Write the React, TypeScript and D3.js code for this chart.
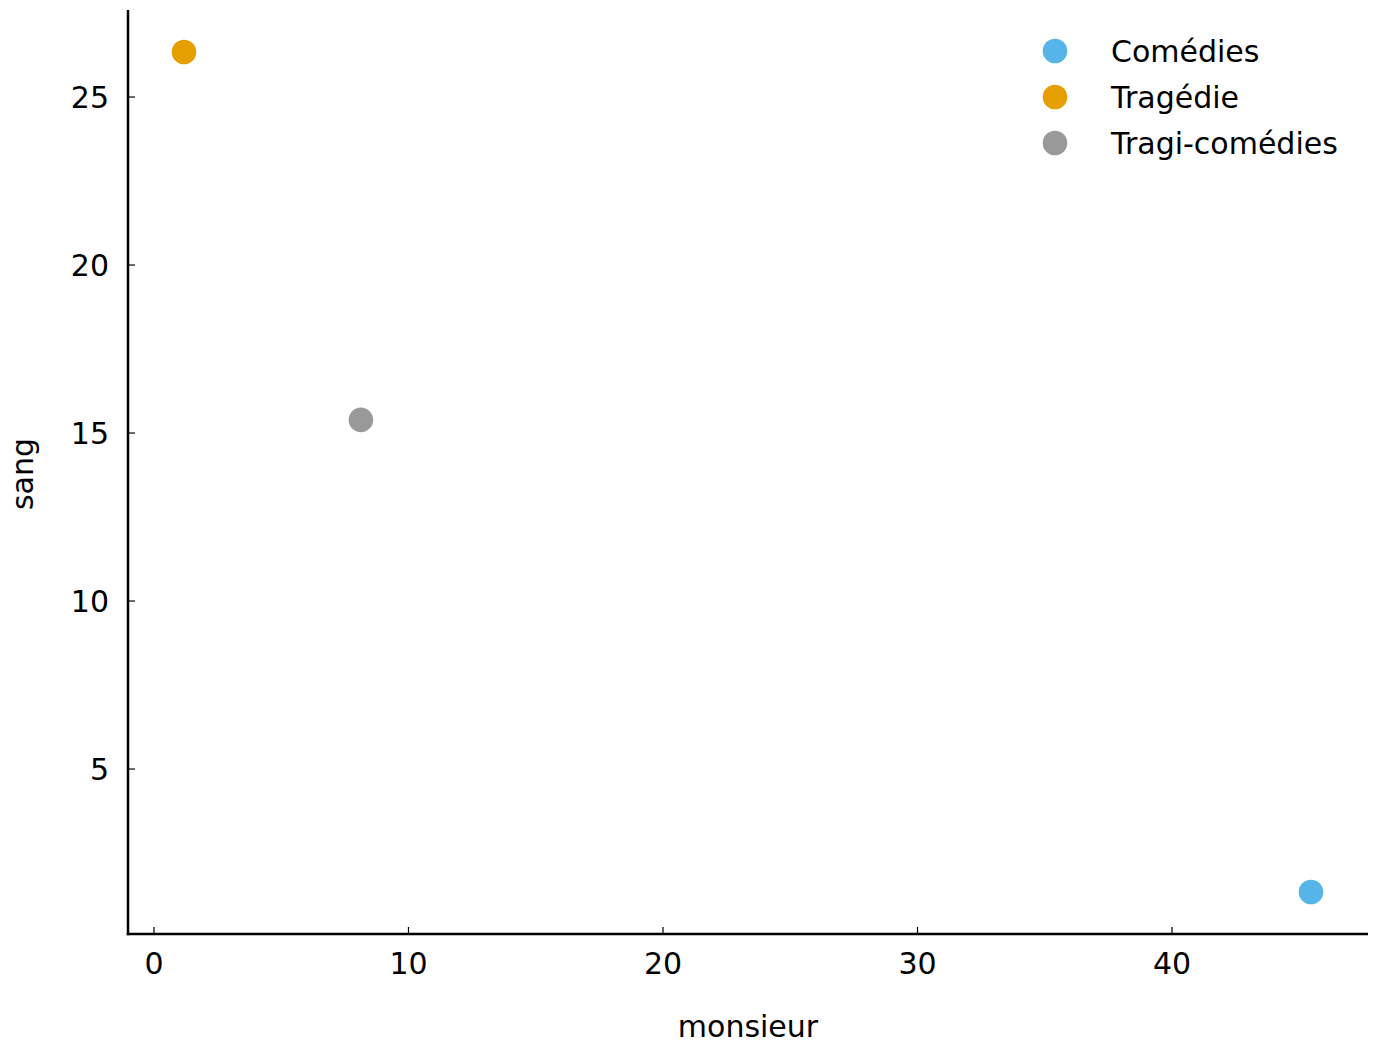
import React from "react";
import * as d3 from "d3";

const categories = ["Comédies", "Tragédie", "Tragi-comédies"];
const monsieurValues = [45.46, 1.18, 8.13];
const sangValues = [1.34, 26.34, 15.39];
const colors = ["#56B4E9", "#E69F00", "#999999"];
const xTicks = [0, 10, 20, 30, 40];
const yTicks = [5, 10, 15, 20, 25];

const W = 1377;
const H = 1052;
const M = { left: 128, right: 1368, top: 10, bottom: 934 };
const FONT = "DejaVu Sans, sans-serif";
const FS = 30;

export default function App() {
  const x = d3.scaleLinear().domain([-1.02, 47.7]).range([M.left, M.right]);
  const y = d3.scaleLinear().domain([0.09, 27.59]).range([M.bottom, M.top]);
  const legendY = d3.scalePoint<string>().domain(categories).range([51, 143]);

  return (
    <div style={{ position: "absolute", left: 0, top: 0 }}>
      <svg width={W} height={H} style={{ display: "block", background: "#fff" }}>
        {xTicks.map((t) => (
          <g key={"x" + t}>
            <line x1={x(t)} x2={x(t)} y1={M.bottom} y2={M.bottom - 7} stroke="#000" strokeWidth={1.2} />
            <text x={x(t)} y={974} textAnchor="middle" fontFamily={FONT} fontSize={FS} fill="#000">
              {t}
            </text>
          </g>
        ))}
        {yTicks.map((t) => (
          <g key={"y" + t}>
            <line x1={M.left} x2={M.left + 7} y1={y(t)} y2={y(t)} stroke="#000" strokeWidth={1.2} />
            <text x={109} y={y(t)} dy="0.36em" textAnchor="end" fontFamily={FONT} fontSize={FS} fill="#000">
              {t}
            </text>
          </g>
        ))}
        <line x1={M.left} x2={M.left} y1={M.top} y2={M.bottom + 1.25} stroke="#000" strokeWidth={2.5} />
        <line x1={M.left - 1.25} x2={M.right} y1={M.bottom} y2={M.bottom} stroke="#000" strokeWidth={2.5} />
        <text x={748} y={1037} textAnchor="middle" fontFamily={FONT} fontSize={FS} fill="#000">
          monsieur
        </text>
        <text
          transform={`translate(33, ${474}) rotate(-90)`}
          textAnchor="middle"
          fontFamily={FONT}
          fontSize={FS}
          fill="#000"
        >
          sang
        </text>
        {categories.map((c, i) => (
          <circle key={c} cx={x(monsieurValues[i])} cy={y(sangValues[i])} r={12.3} fill={colors[i]} />
        ))}
        {categories.map((c, i) => (
          <g key={"l" + c}>
            <circle cx={1055} cy={legendY(c)} r={12.3} fill={colors[i]} />
            <text x={1111} y={legendY(c)} dy="0.36em" fontFamily={FONT} fontSize={FS} fill="#000">
              {c}
            </text>
          </g>
        ))}
      </svg>
    </div>
  );
}
